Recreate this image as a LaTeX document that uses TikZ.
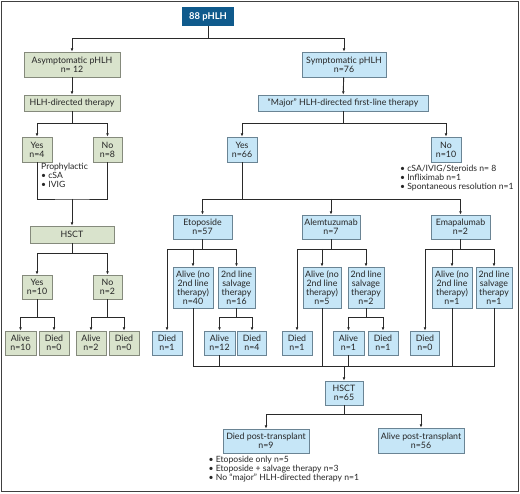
\documentclass[tikz,border=0pt]{standalone}
\usepackage{fontspec}
\setmainfont{Lato}
\usetikzlibrary{arrows.meta}
\definecolor{darkb}{HTML}{0F5A8C}
\definecolor{gfill}{HTML}{D9E3CC}
\definecolor{gline}{HTML}{858A7C}
\definecolor{bfill}{HTML}{C6E6F7}
\definecolor{bline}{HTML}{6A8494}
\definecolor{lnc}{HTML}{2A2A2A}
\tikzset{
  box/.style={draw, line width=0.9pt, inner sep=0pt, align=center,
    font=\fontsize{8.8}{9}\selectfont, text=black!85},
  gbox/.style={box, fill=gfill, draw=gline},
  bbox/.style={box, fill=bfill, draw=bline},
  topbox/.style={box, fill=darkb, draw=darkb, text=white, font=\fontsize{9.4}{10}\selectfont\bfseries},
  conn/.style={draw=lnc, line width=0.9pt},
  arr/.style={conn, -{Latex[length=3.2pt,width=2.8pt]}},
  note/.style={align=left, inner sep=0pt, anchor=north west, text=black!85,
    font=\fontsize{8.6}{9}\selectfont}
}
\newcommand{\bx}[6]{\node[#1, minimum width=#4pt, minimum height=#5pt] (#2) at (#3) {#6};}
\begin{document}
\begin{tikzpicture}[x=1pt,y=-1pt]
\useasboundingbox (0,0) rectangle (520,494);
\fill[white] (0,0) rectangle (520,494);
\draw[line width=1.6pt, draw=black!75] (1.5,1.5) rectangle (518.5,491.5);

% left side
\bx{topbox}{top}{208,16.5}{51}{18}{88 pHLH}
\bx{gbox}{asym}{72,64.5}{96}{25}{Asymptomatic pHLH\\n= 12}
\bx{gbox}{hlh}{72,103}{96}{16}{HLH-directed therapy}
\bx{gbox}{yesL}{37,149.5}{30}{25}{Yes\\n=4}
\bx{gbox}{noL}{107.5,149.5}{29}{25}{No\\n=8}
\bx{gbox}{hsctL}{72,234.5}{84}{17}{HSCT}
\bx{gbox}{yesten}{37,287}{30}{24}{Yes\\n=10}
\bx{gbox}{notwo}{107.5,287}{29}{24}{No\\n=2}
\bx{gbox}{aliveten}{20.5,343}{31}{24}{Alive\\n=10}
\bx{gbox}{diedza}{54,343}{30}{24}{Died\\n=0}
\bx{gbox}{alivetwo}{91,343}{30}{24}{Alive\\n=2}
\bx{gbox}{diedzb}{124,343}{30}{24}{Died\\n=0}

% right side
\bx{bbox}{sym}{344,64.5}{84}{25}{Symptomatic pHLH\\n=76}
\bx{bbox}{major}{343,103}{170}{16}{“Major” HLH-directed first-line therapy}
\bx{bbox}{yesR}{242,149.5}{30}{25}{Yes\\n=66}
\bx{bbox}{noR}{446,149.5}{30}{25}{No\\n=10}
\bx{bbox}{eto}{202.5,227}{59}{24}{Etoposide\\n=57}
\bx{bbox}{alem}{331,227}{58}{24}{Alemtuzumab\\n=7}
\bx{bbox}{ema}{460.5,227}{59}{24}{Emapalumab\\n=2}
\bx{bbox}{alivefo}{193,287.5}{40}{41}{Alive (no\\2nd line\\therapy)\\n=40}
\bx{bbox}{salsix}{236.5,287.5}{37}{41}{2nd line\\salvage\\therapy\\n=16}
\bx{bbox}{diedoa}{167,343}{30}{24}{Died\\n=1}
\bx{bbox}{alivetw}{219.5,343}{31}{24}{Alive\\n=12}
\bx{bbox}{diedfour}{252,343}{29}{24}{Died\\n=4}
\bx{bbox}{alivefive}{322,287.5}{38}{41}{Alive (no\\2nd line\\therapy)\\n=5}
\bx{bbox}{saltwo}{366,287.5}{36}{41}{2nd line\\salvage\\therapy\\n=2}
\bx{bbox}{diedob}{297,343}{30}{24}{Died\\n=1}
\bx{bbox}{aliveoa}{348.5,343}{31}{24}{Alive\\n=1}
\bx{bbox}{diedoc}{383,343}{30}{24}{Died\\n=1}
\bx{bbox}{aliveob}{452,287.5}{40}{41}{Alive (no\\2nd line\\therapy)\\n=1}
\bx{bbox}{salone}{494,287.5}{36}{41}{2nd line\\salvage\\therapy\\n=1}
\bx{bbox}{diedzc}{425,343}{29}{24}{Died\\n=0}
\bx{bbox}{hsctR}{344,393}{38}{24}{HSCT\\n=65}
\bx{bbox}{diedpt}{266,441}{86}{24}{Died post-transplant\\n=9}
\bx{bbox}{alivept}{421,440.5}{86}{25}{Alive post-transplant\\n=56}

% notes
\node[note] (nproph) at (41,163) {Prophylactic\\• cSA\\• IVIG};
\node[note] (nno) at (400,165) {• cSA/IVIG/Steroids n= 8\\• Infliximab n=1\\• Spontaneous resolution n=1};
\node[note] (ndied) at (208.5,456) {• Etoposide only n=5\\• Etoposide + salvage therapy n=3\\• No “major” HLH-directed therapy n=1};

% connectors left
\draw[arr] (top.south) -- (top.south|-0,38) -| (asym.north);
\draw[arr] (top.south|-0,38) -| (sym.north);
\draw[arr] (asym) -- (hlh);
\draw[arr] (hlh.south) -- (hlh.south|-0,123) -| (yesL.north);
\draw[arr] (hlh.south|-0,123) -| (noL.north);
\coordinate (mL) at (72,199);
\draw[conn] (yesL.south) |- (mL) -| (noL.south);
\draw[arr] (mL) -- (hsctL.north);
\draw[arr] (hsctL.south) -- (hsctL.south|-0,253) -| (yesten.north);
\draw[arr] (hsctL.south|-0,253) -| (notwo.north);
\draw[arr] (yesten.south) -- (yesten.south|-0,317) -| (aliveten.north);
\draw[arr] (yesten.south|-0,317) -| (diedza.north);
\draw[arr] (notwo.south) -- (notwo.south|-0,317) -| (alivetwo.north);
\draw[arr] (notwo.south|-0,317) -| (diedzb.north);

% connectors right
\draw[arr] (sym) -- (major);
\draw[arr] (major.south) -- (major.south|-0,123) -| (yesR.north);
\draw[arr] (major.south|-0,123) -| (noR.north);
\draw[arr] (yesR.south) -- (yesR.south|-0,199) -| (eto.north);
\draw[arr] (yesR.south|-0,199) -| (ema.north);
\draw[arr] (alem.north|-0,199) -- (alem.north);

\draw[arr] (eto.south) -- (eto.south|-0,249) -| (diedoa.north);
\draw[arr] (eto.south|-0,249) -| (salsix.north);
\draw[arr] (alivefo.north|-0,249) -- (alivefo.north);
\draw[arr] (salsix.south) -- (salsix.south|-0,317) -| (alivetw.north);
\draw[arr] (salsix.south|-0,317) -| (diedfour.north);

\draw[arr] (alem.south) -- (alem.south|-0,249) -| (diedob.north);
\draw[arr] (alem.south|-0,249) -| (saltwo.north);
\draw[arr] (alivefive.north|-0,249) -- (alivefive.north);
\draw[arr] (saltwo.south) -- (saltwo.south|-0,317) -| (aliveoa.north);
\draw[arr] (saltwo.south|-0,317) -| (diedoc.north);

\draw[arr] (ema.south) -- (ema.south|-0,249) -| (diedzc.north);
\draw[arr] (ema.south|-0,249) -| (salone.north);
\draw[arr] (aliveob.north|-0,249) -- (aliveob.north);

% collecting line
\coordinate (cL) at (193,366);
\draw[conn] (alivefo.south) |- (salone.south|-cL) -- (salone.south);
\draw[conn] (alivetw.south) -- (alivetw.south|-cL);
\draw[conn] (alivefive.south) -- (alivefive.south|-cL);
\draw[conn] (aliveoa.south) -- (aliveoa.south|-cL);
\draw[conn] (aliveob.south) -- (aliveob.south|-cL);
\draw[arr] (hsctR.north|-cL) -- (hsctR.north);

\draw[arr] (hsctR.south) -- (hsctR.south|-0,414) -| (diedpt.north);
\draw[arr] (hsctR.south|-0,414) -| (alivept.north);
\end{tikzpicture}
\end{document}
